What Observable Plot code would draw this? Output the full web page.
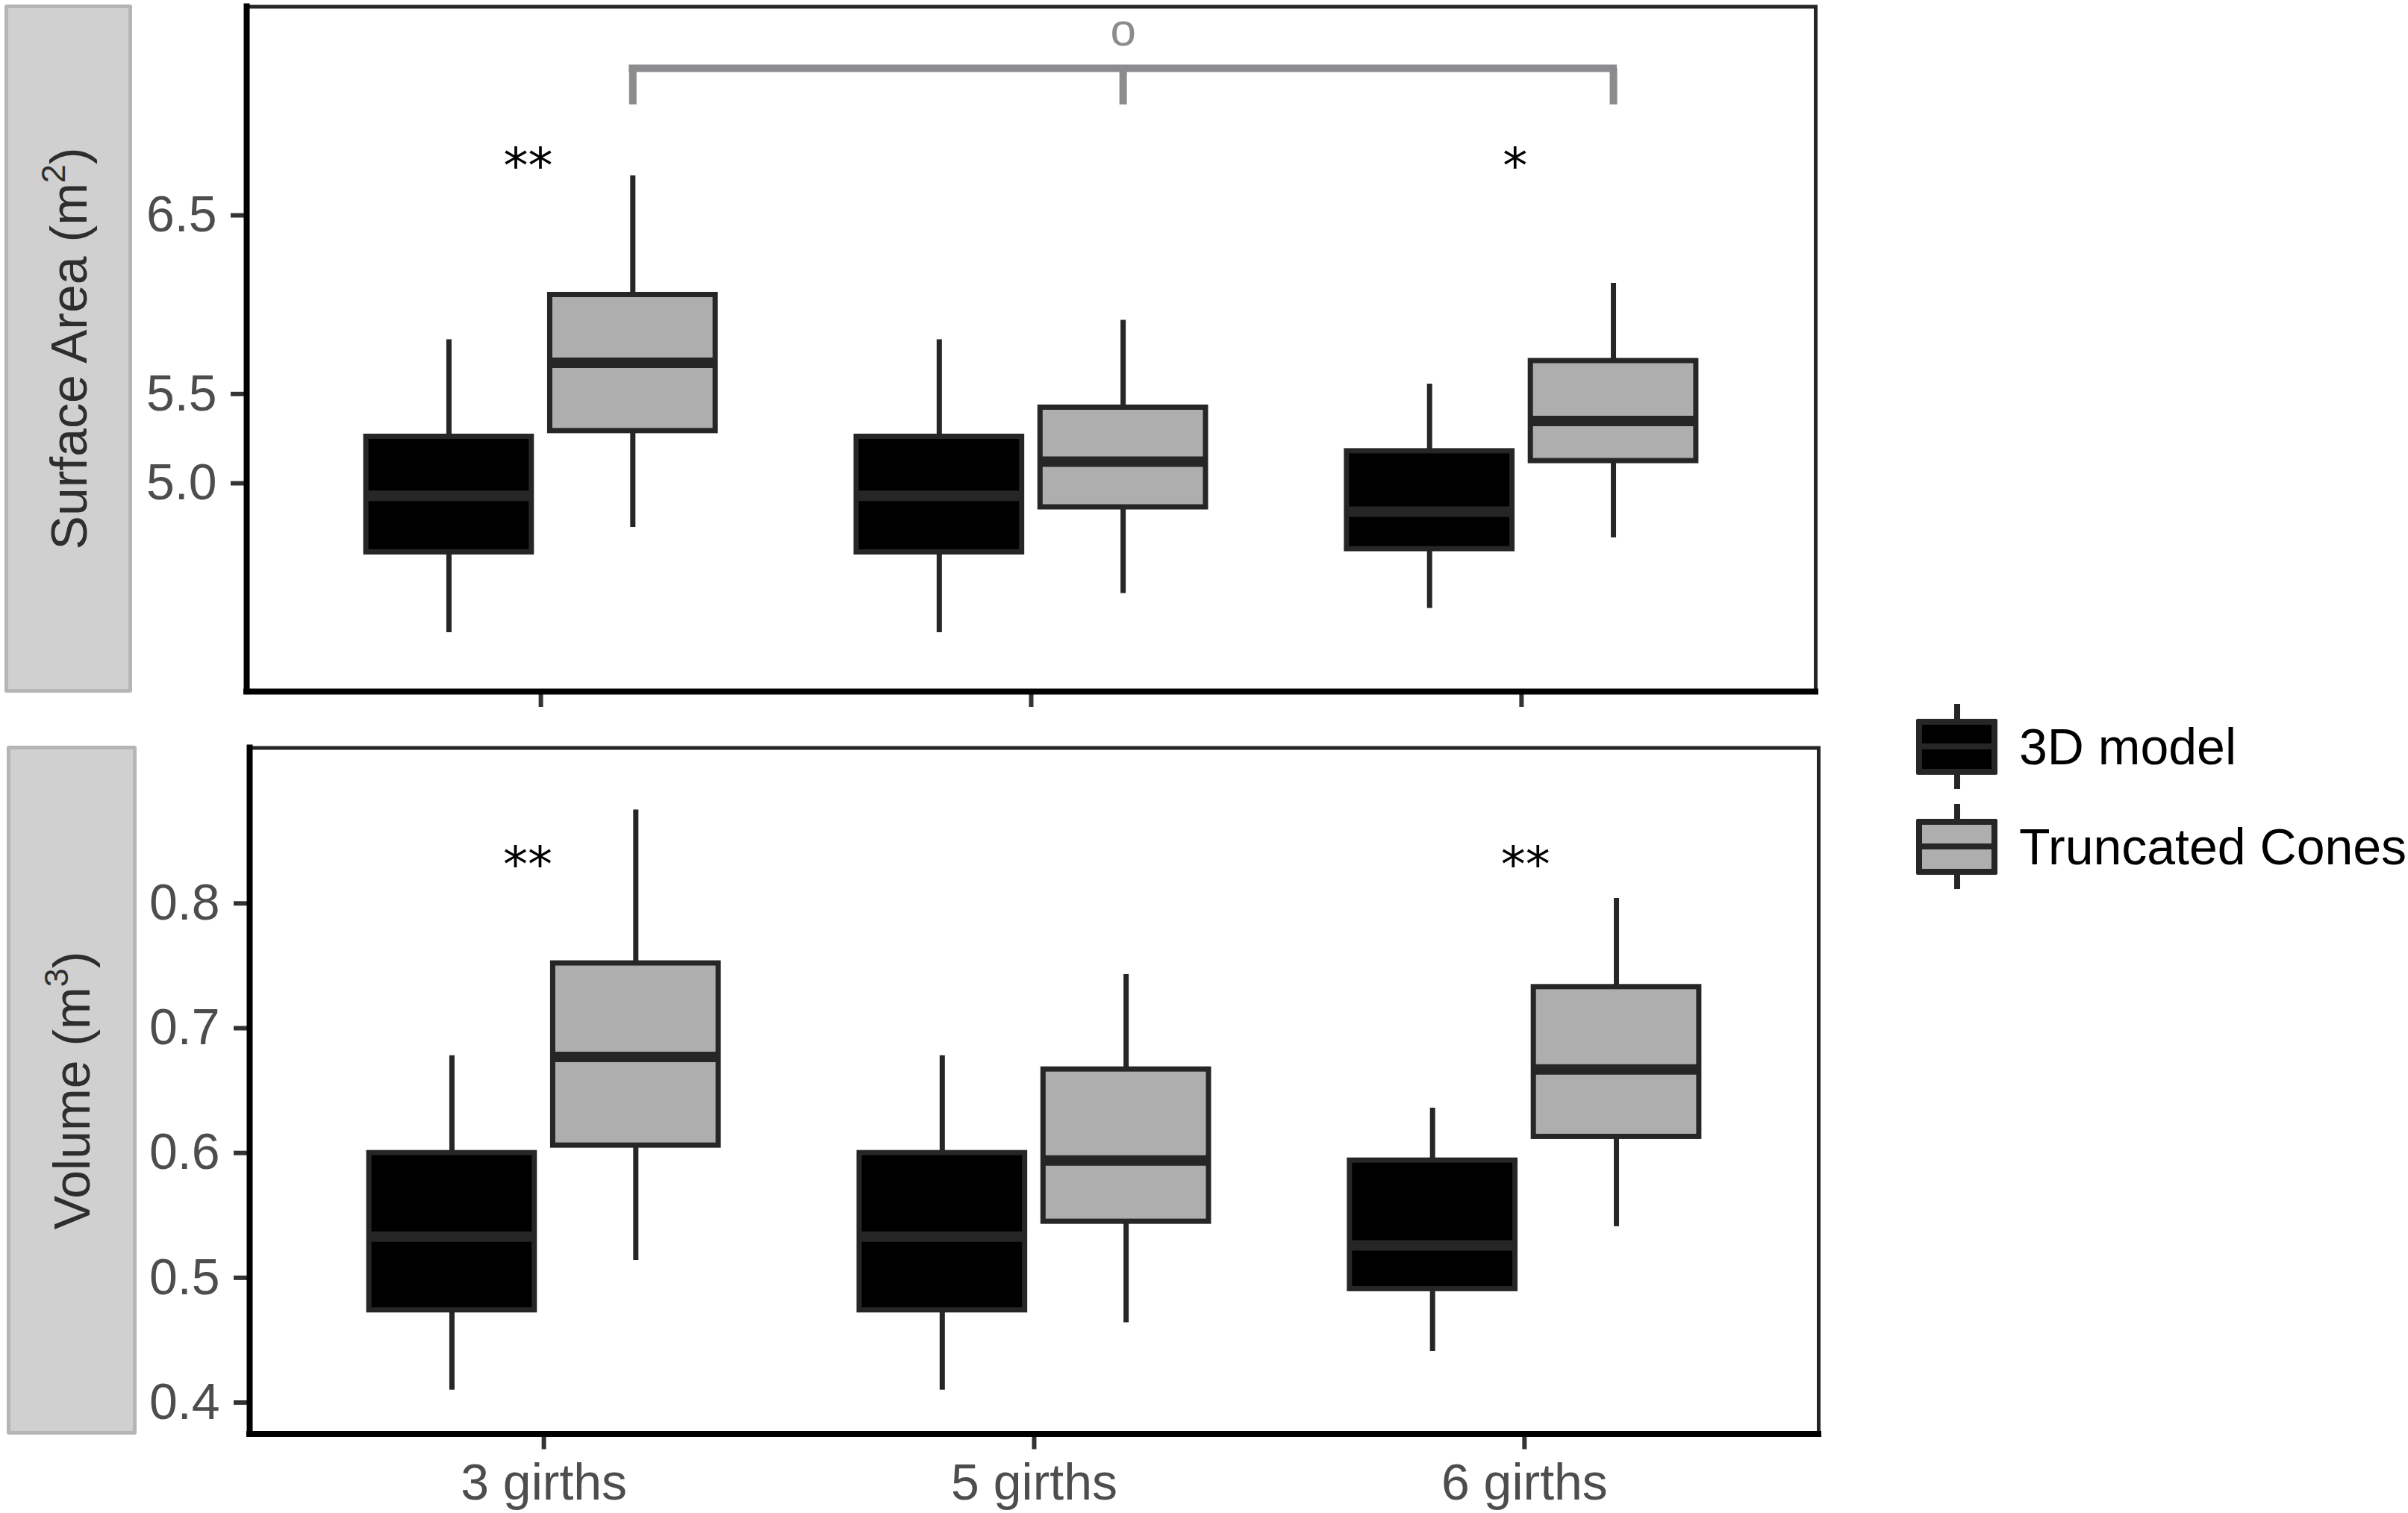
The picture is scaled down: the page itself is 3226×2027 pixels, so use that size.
<!DOCTYPE html>
<html>
<head>
<meta charset="utf-8">
<script src="https://cdn.jsdelivr.net/npm/d3@7"></script>
<script src="https://cdn.jsdelivr.net/npm/@observablehq/plot@0.6"></script>
<style>
  body { margin: 0; background: #fff; }
  #chart { position: relative; width: 3226px; height: 2027px; overflow: hidden;
           font-family: "Liberation Sans", Arial, sans-serif; background: #fff; }
  .panel { position: absolute; left: 0; }
  .strip { position: absolute; box-sizing: border-box; background: #d0d0d0;
           border: 5px solid #b5b5b5; border-radius: 3px; }
  .strip span { position: absolute; left: 50%; top: 50%; white-space: nowrap;
           transform: translate(-50%, -50%) rotate(-90deg); font-size: 68px; color: #2e2e2e; }
  .strip sup { font-size: 0.66em; position: relative; top: -0.12em; line-height: 0; }
  .lg-text { position: absolute; font-size: 68px; color: #000; white-space: nowrap;
             transform: translateY(-50%); }
  .lg-part { position: absolute; box-sizing: border-box; background: #262626; }
  .lg-box { position: absolute; box-sizing: border-box; border: 8px solid #262626; border-radius: 2px; }
</style>
</head>
<body>
<div id="chart"></div>
<script>
// ---------------- data ----------------
const categories = ["3 girths", "5 girths", "6 girths"];
const methods = ["3D model", "Truncated Cones"];
// five-number summaries per category: [min, Q1, median, Q3, max]
const areaModel = [[4.164, 4.614, 4.930, 5.261, 5.804],
                   [4.164, 4.614, 4.930, 5.261, 5.804],
                   [4.300, 4.632, 4.841, 5.180, 5.556]];
const areaCones = [[4.753, 5.293, 5.675, 6.055, 6.722],
                   [4.384, 4.866, 5.121, 5.424, 5.913],
                   [4.695, 5.125, 5.349, 5.685, 6.120]];
const volumeModel = [[0.410, 0.474, 0.533, 0.600, 0.678],
                     [0.410, 0.474, 0.533, 0.600, 0.678],
                     [0.441, 0.491, 0.526, 0.594, 0.636]];
const volumeCones = [[0.514, 0.606, 0.677, 0.752, 0.875],
                     [0.464, 0.545, 0.594, 0.667, 0.743],
                     [0.541, 0.613, 0.667, 0.733, 0.804]];
const areaTicks = [5.0, 5.5, 6.5];
const volumeTicks = [0.4, 0.5, 0.6, 0.7, 0.8];
const areaDomain = [3.834, 7.668];
const volumeDomain = [0.3749, 0.9246];
// significance labels (x in category units, y in data units)
const areaStars = [{x: 0.974, y: 6.769, label: "**"}, {x: 2.987, y: 6.769, label: "*"}];
const volumeStars = [{x: 0.967, y: 0.8304, label: "**"}, {x: 3.002, y: 0.8304, label: "**"}];
// bracket across Truncated Cones boxes
const areaBracket = {groups: ["3 girths", "5 girths", "6 girths"], method: "Truncated Cones",
                     top: 7.323, bottom: 7.119, label: "o", labelY: 7.535};

// ---------------- build ----------------
const DODGE = 0.1875, HALF = 0.16875;
const boxColors = ["#000000", "#aeaeae"];
const lineColor = "#262626";

function rowsFrom(model, cones) {
  const rows = [];
  categories.forEach((c, i) => {
    [model, cones].forEach((s, j) => {
      const [min, q1, med, q3, max] = s[i];
      rows.push({cat: c, method: methods[j], pos: i + 1 + (j === 0 ? -DODGE : DODGE), min, q1, med, q3, max});
    });
  });
  return rows;
}

function panel({rows, ticks, domain, height, marginLeft, marginRight, marginTop, marginBottom, labels, stars, bracket}) {
  const marks = [
    Plot.ruleX(rows, {x: "pos", y1: "min", y2: "max", stroke: lineColor, strokeWidth: 7}),
    Plot.rect(rows, {x1: d => d.pos - HALF, x2: d => d.pos + HALF, y1: "q1", y2: "q3",
                     fill: "method", stroke: lineColor, strokeWidth: 7}),
    Plot.ruleY(rows, {y: "med", x1: d => d.pos - HALF, x2: d => d.pos + HALF, stroke: lineColor, strokeWidth: 14}),
    Plot.frame({stroke: lineColor, strokeWidth: 5}),
    Plot.axisY({ticks, tickFormat: d3.format(".1f"), tickSize: 21, tickPadding: 19, fontSize: 68,
                fill: "#4d4d4d", stroke: "#333333", strokeWidth: 6}),
    Plot.axisX({ticks: [1, 2, 3], tickFormat: labels ? (d => categories[d - 1]) : (() => ""),
                tickSize: 21, tickPadding: 19, fontSize: 68, fill: "#4d4d4d", stroke: "#333333", strokeWidth: 6}),
    Plot.ruleX([0.4], {stroke: "#000", strokeWidth: 8, strokeLinecap: "square"}),
    Plot.ruleY([domain[0]], {stroke: "#000", strokeWidth: 8, strokeLinecap: "square"}),
    Plot.text(stars, {x: "x", y: "y", text: "label", fontSize: 66, fontFamily: "DejaVu Sans", fill: "#000"})
  ];
  if (bracket) {
    const ms = methods.indexOf(bracket.method) === 0 ? -DODGE : DODGE;
    const pts = bracket.groups.map(g => categories.indexOf(g) + 1 + ms);
    const grey = "#8c8c8e";
    marks.push(
      Plot.ruleX(pts, {x: d => d, y1: () => bracket.bottom, y2: () => bracket.top, stroke: grey, strokeWidth: 10}),
      Plot.ruleY([bracket], {y: "top", x1: () => pts[0], x2: () => pts[pts.length - 1], stroke: grey,
                             strokeWidth: 10, strokeLinecap: "square"}),
      Plot.text([bracket], {x: () => pts[1], y: "labelY", text: "label", fontSize: 62, fill: grey})
    );
  }
  return Plot.plot({
    width: 2470, height, marginLeft, marginRight, marginTop, marginBottom,
    x: {type: "linear", domain: [0.4, 3.6], axis: null},
    y: {domain, axis: null},
    color: {domain: methods, range: boxColors},
    style: "background: transparent; overflow: visible; font-family: 'Liberation Sans', Arial, sans-serif; max-width: none;",
    marks
  });
}

const chart = document.getElementById("chart");

function place(el, left, top) {
  const d = document.createElement("div");
  d.className = "panel";
  d.style.left = left + "px";
  d.style.top = top + "px";
  d.appendChild(el);
  chart.appendChild(d);
}

place(panel({rows: rowsFrom(areaModel, areaCones), ticks: areaTicks, domain: areaDomain,
             height: 960, marginLeft: 330, marginRight: 38, marginTop: 8.5, marginBottom: 34,
             labels: false, stars: areaStars, bracket: areaBracket}), 0, 0);
place(panel({rows: rowsFrom(volumeModel, volumeCones), ticks: volumeTicks, domain: volumeDomain,
             height: 1077, marginLeft: 334, marginRight: 34, marginTop: 51.5, marginBottom: 106.5,
             labels: true, stars: volumeStars, bracket: null}), 0, 950);

// strips (y titles)
function strip(html, left, top, w, h) {
  const s = document.createElement("div");
  s.className = "strip";
  Object.assign(s.style, {left: left + "px", top: top + "px", width: w + "px", height: h + "px"});
  const t = document.createElement("span");
  t.innerHTML = html;
  s.appendChild(t);
  chart.appendChild(s);
}
strip("Surface Area (m<sup>2</sup>)", 6, 6, 171, 922);
strip("Volume (m<sup>3</sup>)", 9, 999, 174, 923);

// legend
function legendKey(name, idx, cy) {
  const bx = 2567, bw = 109, bh = 75;
  const wk = document.createElement("div");
  wk.className = "lg-part";
  Object.assign(wk.style, {left: (bx + bw / 2 - 4) + "px", top: (cy - 57) + "px", width: "8px", height: "114px"});
  chart.appendChild(wk);
  const b = document.createElement("div");
  b.className = "lg-box";
  Object.assign(b.style, {left: bx + "px", top: (cy - bh / 2) + "px", width: bw + "px", height: bh + "px",
                          background: boxColors[idx]});
  chart.appendChild(b);
  const m = document.createElement("div");
  m.className = "lg-part";
  Object.assign(m.style, {left: (bx + 6) + "px", top: (cy - 4) + "px", width: (bw - 12) + "px", height: "8px"});
  chart.appendChild(m);
  const t = document.createElement("div");
  t.className = "lg-text";
  t.textContent = name;
  Object.assign(t.style, {left: "2705px", top: cy + "px"});
  chart.appendChild(t);
}
methods.forEach((m, i) => legendKey(m, i, i === 0 ? 1000 : 1134));
</script>
</body>
</html>
